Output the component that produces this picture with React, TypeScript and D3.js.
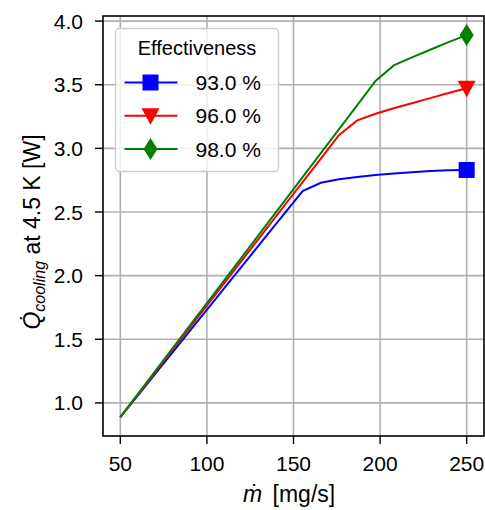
import React from "react";
import * as d3 from "d3";

// mass flow samples (linspace 50..250, 20 points)
const massFlow = [
  50, 60.53, 71.05, 81.58, 92.11, 102.63, 113.16, 123.68, 134.21, 144.74,
  155.26, 165.79, 176.32, 186.84, 197.37, 207.89, 218.42, 228.95, 239.47, 250,
];

const q93 = [
  0.888, 1.066, 1.244, 1.421, 1.599, 1.776, 1.954, 2.132, 2.31, 2.487, 2.665,
  2.73, 2.757, 2.775, 2.79, 2.802, 2.813, 2.823, 2.829, 2.83,
];
const q96 = [
  0.888, 1.073, 1.257, 1.442, 1.627, 1.812, 1.996, 2.181, 2.366, 2.551, 2.735,
  2.92, 3.105, 3.22, 3.272, 3.315, 3.355, 3.395, 3.435, 3.473,
];
const q98 = [
  0.888, 1.077, 1.265, 1.454, 1.643, 1.831, 2.02, 2.208, 2.397, 2.586, 2.774,
  2.963, 3.151, 3.34, 3.53, 3.652, 3.715, 3.775, 3.835, 3.89,
];

const seriesNames = ["93.0 %", "96.0 %", "98.0 %"];
const seriesColors = ["#0000ff", "#ff0000", "#008000"];
const seriesMarkers = ["square", "triangleDown", "diamond"];
const xTicks = [50, 100, 150, 200, 250];
const yTicks = [1.0, 1.5, 2.0, 2.5, 3.0, 3.5, 4.0];

const W = 485;
const H = 510;
const margin = { left: 103, right: 1, top: 16, bottom: 74 };
const FONT = "'Liberation Sans', Arial, sans-serif";

function Marker({ kind, x, y, color }) {
  if (kind === "square") {
    return <rect x={x - 8} y={y - 8} width={16} height={16} fill={color} />;
  }
  if (kind === "triangleDown") {
    return (
      <path
        d={`M${x - 9},${y - 7.5} L${x + 9},${y - 7.5} L${x},${y + 9} Z`}
        fill={color}
      />
    );
  }
  return (
    <path
      d={`M${x},${y - 11} L${x + 7},${y} L${x},${y + 11} L${x - 7},${y} Z`}
      fill={color}
    />
  );
}

export default function App() {
  const x = d3.scaleLinear().domain([40, 260]).range([margin.left, W - margin.right]);
  const y = d3.scaleLinear().domain([0.74, 4.04]).range([H - margin.bottom, margin.top]);

  const line = d3
    .line<[number, number]>()
    .x((d) => x(d[0]))
    .y((d) => y(d[1]));

  const series = [q93, q96, q98].map((vals, i) => ({
    name: seriesNames[i],
    color: seriesColors[i],
    marker: seriesMarkers[i],
    pts: massFlow.map((m, j) => [m, vals[j]] as [number, number]),
  }));

  const x0 = margin.left;
  const x1 = W - margin.right;
  const y0 = H - margin.bottom;
  const y1 = margin.top;

  const leg = { x: 115.5, y: 28.5, w: 163, h: 143 };

  return (
    <svg width={W} height={H} style={{ position: "absolute", left: 0, top: 0 }} fontFamily={FONT}>
      <rect width={W} height={H} fill="#fff" />
      {/* grid */}
      {xTicks.map((t) => (
        <line key={"gx" + t} x1={x(t)} x2={x(t)} y1={y0} y2={y1} stroke="#b0b0b0" strokeWidth={1.6} />
      ))}
      {yTicks.map((t) => (
        <line key={"gy" + t} x1={x0} x2={x1} y1={y(t)} y2={y(t)} stroke="#b0b0b0" strokeWidth={1.6} />
      ))}
      {/* data */}
      {series.map((s) => (
        <path key={s.name} d={line(s.pts) || ""} fill="none" stroke={s.color} strokeWidth={2} />
      ))}
      {series.map((s) => {
        const last = s.pts[s.pts.length - 1];
        return <Marker key={"m" + s.name} kind={s.marker} x={x(last[0])} y={y(last[1])} color={s.color} />;
      })}
      {/* frame */}
      <rect x={x0} y={y1} width={x1 - x0} height={y0 - y1} fill="none" stroke="#000" strokeWidth={1.6} />
      {/* ticks */}
      {xTicks.map((t) => (
        <g key={"tx" + t}>
          <line x1={x(t)} x2={x(t)} y1={y0} y2={y0 + 8} stroke="#000" strokeWidth={1.4} />
          <text x={x(t)} y={y0 + 35} textAnchor="middle" fontSize={21}>
            {t}
          </text>
        </g>
      ))}
      {yTicks.map((t) => (
        <g key={"ty" + t}>
          <line x1={x0 - 8} x2={x0} y1={y(t)} y2={y(t)} stroke="#000" strokeWidth={1.4} />
          <text x={x0 - 20} y={y(t) + 7.5} textAnchor="end" fontSize={21}>
            {d3.format(".1f")(t)}
          </text>
        </g>
      ))}
      {/* axis labels */}
      <text x={243} y={502} fontSize={23}>
        <tspan fontStyle="italic">ṁ</tspan>
        <tspan dx={4}> [mg/s]</tspan>
      </text>
      <text
        transform={`translate(40,${232}) rotate(-90)`}
        textAnchor="middle"
        fontSize={23}
      >
        <tspan fontStyle="italic">Q̇</tspan>
        <tspan fontStyle="italic" fontSize={16} dy={5}>cooling</tspan>
        <tspan dy={-5}> at 4.5 K [W]</tspan>
      </text>
      {/* legend */}
      <rect
        x={leg.x}
        y={leg.y}
        width={leg.w}
        height={leg.h}
        rx={4}
        fill="#fff"
        fillOpacity={0.8}
        stroke="#cccccc"
        strokeWidth={1.4}
      />
      <text x={leg.x + leg.w / 2} y={leg.y + 26} textAnchor="middle" fontSize={20}>
        Effectiveness
      </text>
      {series.map((s, i) => {
        const cy = leg.y + 54 + i * 33.3;
        return (
          <g key={"l" + s.name}>
            <line x1={leg.x + 9} x2={leg.x + 62} y1={cy} y2={cy} stroke={s.color} strokeWidth={2} />
            <Marker kind={s.marker} x={leg.x + 35} y={cy} color={s.color} />
            <text x={leg.x + 80} y={cy + 7.5} fontSize={21}>
              {s.name}
            </text>
          </g>
        );
      })}
    </svg>
  );
}
